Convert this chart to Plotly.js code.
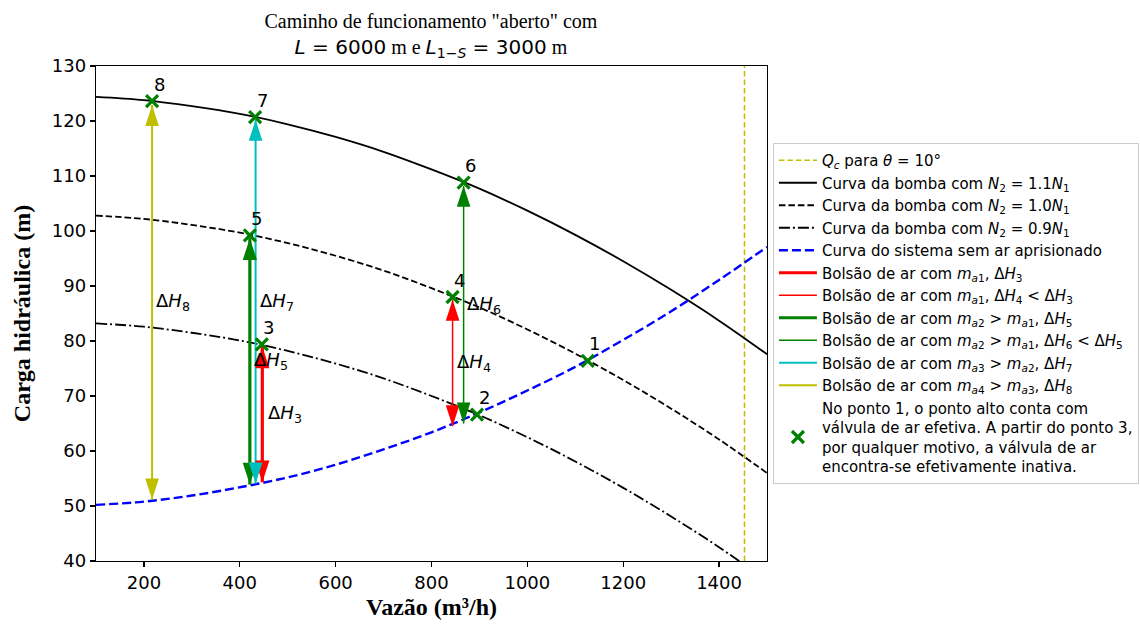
<!DOCTYPE html>
<html>
<head>
<meta charset="utf-8">
<script src="https://cdn.plot.ly/plotly-3.0.1.min.js"></script>
<style>html,body{margin:0;padding:0;background:#fff;}</style>
</head>
<body>
<div id="chart" style="width:1140px;height:624px;"></div>
<script>
// ---- data ----
const flowQ = [100,200,300,400,500,600,700,800,900,1000,1100,1200,1300,1400,1500];
const headN11 = [124.4,123.8,122.7,121.3,119.4,117.1,114.4,111.2,107.7,103.7,99.3,94.5,89.3,83.7,77.6];
const headN10 = [102.8,102.2,101.1,99.7,97.8,95.5,92.8,89.6,86.1,82.1,77.7,72.9,67.7,62.1,56.0];
const headN09 = [83.2,82.6,81.5,80.1,78.2,75.9,73.2,70.0,66.5,62.5,58.1,53.3,48.1,42.5,36.4];
const headSys = [50.2,50.8,51.9,53.4,55.2,57.5,60.3,63.4,67.0,71.0,75.3,80.2,85.4,91.1,97.1];
const qcValue = 1453;
const qcRange = [40, 130];

const pointQ = [1126, 895, 446, 844, 421, 867, 432, 217];
const pointH = [76.4, 66.6, 79.4, 88.0, 99.2, 108.8, 120.7, 123.6];
const pointLabels = ['1','2','3','4','5','6','7','8'];

// arrows: ΔH3, ΔH4, ΔH5, ΔH6, ΔH7, ΔH8
const arrowQ = [447, 844, 421, 867, 433, 217];
const arrowTop = [79.0, 87.5, 98.7, 108.2, 120.2, 122.9];
const arrowBottom = [54.3, 64.5, 53.9, 65.0, 54.1, 51.2];
const arrowNames = [
  'Bolsão de ar com <i>m</i><sub><i>a</i>1</sub>, Δ<i>H</i><sub>3</sub>',
  'Bolsão de ar com <i>m</i><sub><i>a</i>1</sub>, Δ<i>H</i><sub>4</sub> < Δ<i>H</i><sub>3</sub>',
  'Bolsão de ar com <i>m</i><sub><i>a</i>2</sub> > <i>m</i><sub><i>a</i>1</sub>, Δ<i>H</i><sub>5</sub>',
  'Bolsão de ar com <i>m</i><sub><i>a</i>2</sub> > <i>m</i><sub><i>a</i>1</sub>, Δ<i>H</i><sub>6</sub> < Δ<i>H</i><sub>5</sub>',
  'Bolsão de ar com <i>m</i><sub><i>a</i>3</sub> > <i>m</i><sub><i>a</i>2</sub>, Δ<i>H</i><sub>7</sub>',
  'Bolsão de ar com <i>m</i><sub><i>a</i>4</sub> > <i>m</i><sub><i>a</i>3</sub>, Δ<i>H</i><sub>8</sub>'
];
const arrowLabels = ['3','4','5','6','7','8'];
const arrowLabelQ = [454, 849, 426, 870, 438, 220];

const xTicks = [200,400,600,800,1000,1200,1400];
const yTicks = [40,50,60,70,80,90,100,110,120,130];

// ---- styles ----
const arrowColors = ['#ff0000','#ff0000','#008000','#008000','#00bfbf','#bfbf00'];
const arrowWidths = [3.2, 1.5, 3.2, 1.5, 2, 2];
const SANS = 'DejaVu Sans';
const SERIF = 'Liberation Serif';

const traces = [];
traces.push({x:[qcValue,qcValue], y:qcRange, mode:'lines', name:'<i>Q</i><sub><i>c</i></sub> para <i>θ</i> = 10°',
  line:{color:'#bfbf00', width:1.5, dash:'5.5px,3px'}});
traces.push({x:flowQ, y:headN11, mode:'lines', name:'Curva da bomba com <i>N</i><sub>2</sub> = 1.1<i>N</i><sub>1</sub>',
  line:{color:'#000', width:1.8, shape:'spline'}});
traces.push({x:flowQ, y:headN10, mode:'lines', name:'Curva da bomba com <i>N</i><sub>2</sub> = 1.0<i>N</i><sub>1</sub>',
  line:{color:'#000', width:1.8, dash:'6.5px,3px', shape:'spline'}});
traces.push({x:flowQ, y:headN09, mode:'lines', name:'Curva da bomba com <i>N</i><sub>2</sub> = 0.9<i>N</i><sub>1</sub>',
  line:{color:'#000', width:1.8, dash:'11px,3px,2px,3px', shape:'spline'}});
traces.push({x:flowQ, y:headSys, mode:'lines', name:'Curva do sistema sem ar aprisionado',
  line:{color:'#0000ff', width:2.4, dash:'9px,4px', shape:'spline'}});

for (let i = 0; i < arrowQ.length; i++) {
  traces.push({x:[arrowQ[i],arrowQ[i]], y:[arrowTop[i],arrowBottom[i]], mode:'lines', name:arrowNames[i],
    line:{color:arrowColors[i], width:arrowWidths[i]}});
}
for (let i = 0; i < arrowQ.length; i++) {
  traces.push({x:[arrowQ[i],arrowQ[i]], y:[arrowTop[i],arrowBottom[i]], mode:'markers', showlegend:false,
    hoverinfo:'skip',
    marker:{symbol:'arrow', size: arrowWidths[i] > 3 ? 23 : 22, angle:[0,180], color:arrowColors[i], line:{width:0}}});
}
traces.push({x:pointQ, y:pointH, mode:'markers',
  name:'No ponto 1, o ponto alto conta com<br>válvula de ar efetiva. A partir do ponto 3,<br>por qualquer motivo, a válvula de ar<br>encontra-se efetivamente inativa.',
  marker:{symbol:'x-thin', size:12, color:'#008000', line:{color:'#008000', width:3.2}}});

const annotations = [];
for (let i = 0; i < pointQ.length; i++) {
  annotations.push({x:pointQ[i], y:pointH[i], xref:'x', yref:'y', text:pointLabels[i], showarrow:false,
    xshift:7, yshift:17, font:{family:SANS, size:18, color:'#000'}});
}
for (let i = 0; i < arrowQ.length; i++) {
  annotations.push({x:arrowLabelQ[i], y:(arrowTop[i]+arrowBottom[i])/2, xref:'x', yref:'y',
    text:'Δ<i>H</i><sub>' + arrowLabels[i] + '</sub>', showarrow:false, xanchor:'left', yanchor:'middle',
    font:{family:SANS, size:18, color:'#000'}});
}

const layout = {
  width:1140, height:624,
  margin:{l:96, r:373, t:66, b:63},
  paper_bgcolor:'#fff', plot_bgcolor:'#fff',
  showlegend:true,
  title:{
    text:'Caminho de funcionamento "aberto" com<br><span style="font-family:DejaVu Sans"><i>L</i> = 6000</span> m e <span style="font-family:DejaVu Sans"><i>L</i><sub>1−<i>S</i></sub> = 3000</span> m',
    font:{family:SERIF, size:20, color:'#000'},
    x:0.378, xanchor:'center', y:0.955, yanchor:'top', yref:'container'
  },
  xaxis:{
    range:[100,1500], tickvals:xTicks, ticktext:xTicks.map(String),
    showline:true, mirror:true, linecolor:'#000', linewidth:1.2,
    ticks:'outside', ticklen:5, tickwidth:1.2, tickcolor:'#000',
    showgrid:false, zeroline:false,
    tickfont:{family:SANS, size:18, color:'#000'},
    title:{text:'<b>Vazão (m³/h)</b>', font:{family:SERIF, size:24, color:'#000'}, standoff:6}
  },
  yaxis:{
    range:[40,130], tickvals:yTicks, ticktext:yTicks.map(String),
    showline:true, mirror:true, linecolor:'#000', linewidth:1.2,
    ticks:'outside', ticklen:5, tickwidth:1.2, tickcolor:'#000',
    showgrid:false, zeroline:false,
    tickfont:{family:SANS, size:18, color:'#000'},
    title:{text:'<b>Carga hidráulica (m)</b>', font:{family:SERIF, size:24, color:'#000'}, standoff:14}
  },
  legend:{
    xref:'container', x:0.678, xanchor:'left', yref:'paper', y:0.5, yanchor:'middle',
    bgcolor:'#fff', bordercolor:'#cccccc', borderwidth:1,
    font:{family:SANS, size:15, color:'#000'},
    itemwidth:38, traceorder:'normal'
  },
  annotations:annotations
};

Plotly.newPlot('chart', traces, layout, {displayModeBar:false, staticPlot:true});
</script>
</body>
</html>
